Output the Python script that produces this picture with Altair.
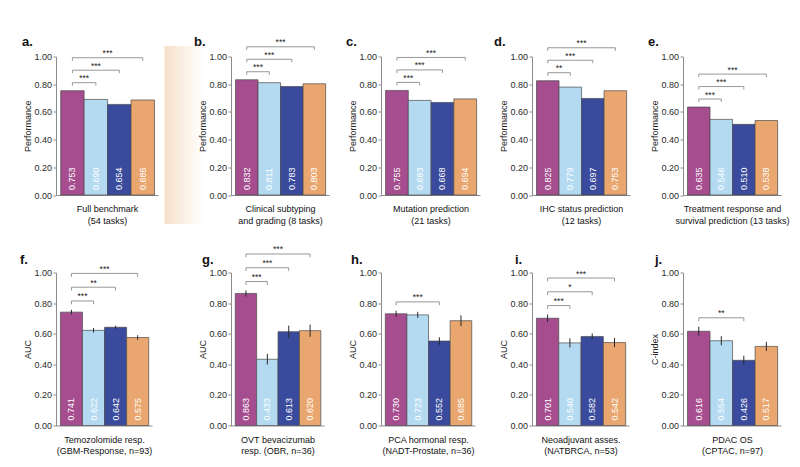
import altair as alt
import pandas as pd

FONT = "Liberation Sans"

# ---------------- data ----------------
models = ["Model 1", "Model 2", "Model 3", "Model 4"]
colors = ["#A64D8F", "#B4DAF1", "#3A4A9C", "#EAA66F"]

vals_a = [0.753, 0.690, 0.654, 0.686]
vals_b = [0.832, 0.811, 0.783, 0.803]
vals_c = [0.755, 0.683, 0.668, 0.694]
vals_d = [0.825, 0.779, 0.697, 0.753]
vals_e = [0.635, 0.546, 0.510, 0.538]
vals_f = [0.741, 0.622, 0.642, 0.575]
vals_g = [0.863, 0.433, 0.613, 0.620]
vals_h = [0.730, 0.723, 0.552, 0.685]
vals_i = [0.701, 0.540, 0.582, 0.542]
vals_j = [0.616, 0.554, 0.426, 0.517]

err_f = [0.015, 0.015, 0.010, 0.015]
err_g = [0.020, 0.035, 0.040, 0.040]
err_h = [0.020, 0.020, 0.025, 0.035]
err_i = [0.025, 0.030, 0.020, 0.030]
err_j = [0.030, 0.030, 0.030, 0.030]

sig_a = [("Model 2", "***"), ("Model 3", "***"), ("Model 4", "***")]
sig_b = [("Model 2", "***"), ("Model 3", "***"), ("Model 4", "***")]
sig_c = [("Model 2", "***"), ("Model 3", "***"), ("Model 4", "***")]
sig_d = [("Model 2", "**"), ("Model 3", "***"), ("Model 4", "***")]
sig_e = [("Model 2", "***"), ("Model 3", "***"), ("Model 4", "***")]
sig_f = [("Model 2", "***"), ("Model 3", "**"), ("Model 4", "***")]
sig_g = [("Model 2", "***"), ("Model 3", "***"), ("Model 4", "***")]
sig_h = [("Model 3", "***")]
sig_i = [("Model 2", "***"), ("Model 3", "*"), ("Model 4", "***")]
sig_j = [("Model 3", "**")]

xtitle_a = ["Full benchmark", "(54 tasks)"]
xtitle_b = ["Clinical subtyping", "and grading (8 tasks)"]
xtitle_c = ["Mutation prediction", "(21 tasks)"]
xtitle_d = ["IHC status prediction", "(12 tasks)"]
xtitle_e = ["Treatment response and", "survival prediction (13 tasks)"]
xtitle_f = ["Temozolomide resp.", "(GBM-Response, n=93)"]
xtitle_g = ["OVT bevacizumab", "resp. (OBR, n=36)"]
xtitle_h = ["PCA hormonal resp.", "(NADT-Prostate, n=36)"]
xtitle_i = ["Neoadjuvant asses.", "(NATBRCA, n=53)"]
xtitle_j = ["PDAC OS", "(CPTAC, n=97)"]

ytick_values = [0.0, 0.2, 0.4, 0.6, 0.8, 1.0]

# ---------------- layout (pixels) ----------------
ROW1_H = 138.5
ROW2_H = 153
COL_SPACING = 40
ROW_SPACING = 77
# (cell width used for layout, width of the drawn x axis, panel-letter dx)
geom = {
    "a": (134.5, 102, -34),
    "b": (104, 98, -37),
    "c": (104, 99, -35),
    "d": (104, 98, -38),
    "e": (98, 98, -35),
    "f": (116.8, 96, -36),
    "g": (110, 93, -29),
    "h": (110.4, 94, -30),
    "i": (110.6, 97, -17),
    "j": (98, 98, -28),
}

AX_GREY = "#8c8c8c"


def make_panel(letter, vals, errs, sig, xtitle, ytitle, height, title_offset):
    cell_w, axis_w, tdx = geom[letter]
    n = len(models)
    errs = errs if errs is not None else [0.0] * n
    df = pd.DataFrame({"model": models, "pos": list(range(n)), "value": vals, "err": errs})
    df["left"] = df["pos"] - 0.5
    df["right"] = df["pos"] + 0.5
    df["lo"] = df["value"] - df["err"]
    df["hi"] = df["value"] + df["err"]
    df["zero"] = 0.0
    df["label"] = [f"{v:.3f}" for v in vals]

    rows = []
    for rank, (target, stars) in enumerate(sig):
        j = models.index(target)
        top = max(df["hi"].iloc[: j + 1])
        level = top + 0.058 + 0.09 * rank
        rows.append({"xa": 0, "xb": j, "xm": j / 2.0, "level": level, "stars": stars})
    br = pd.DataFrame(rows)
    tk = pd.DataFrame(
        [{"x": r["xa"], "level": r["level"]} for r in rows]
        + [{"x": r["xb"], "level": r["level"]} for r in rows]
    )
    tk["low"] = tk["level"] - 0.022

    xs = alt.Scale(domain=[-0.7, 3.65], range=[0, axis_w], nice=False, zero=False)
    ys = alt.Scale(domain=[0, 1], nice=False, zero=True)
    x_axis = alt.Axis(
        title=xtitle, labels=False, ticks=False, grid=False,
        domainColor=AX_GREY, domainWidth=1,
        titleFont=FONT, titleFontSize=9, titleFontWeight="normal", titleColor="#111",
        titlePadding=9.5, titleLineHeight=11.5,
    )
    y_axis = alt.Axis(
        title=ytitle, values=ytick_values, format=".2f", grid=False,
        domainColor=AX_GREY, tickColor=AX_GREY, tickSize=3, domainWidth=1,
        labelFont=FONT, labelFontSize=9, labelColor="#2a2a2a", labelPadding=1.5,
        titleFont=FONT, titleFontSize=9, titleFontWeight="normal", titleColor="#222",
        titlePadding=1,
    )

    def X(f):
        return alt.X(f, scale=xs, axis=x_axis)

    def Y(f):
        return alt.Y(f, scale=ys, axis=y_axis)

    layers = []
    if letter == "a":
        grad = alt.Gradient(
            gradient="linear", x1=0, x2=1, y1=0, y2=0,
            stops=[alt.GradientStop(offset=0, color="#F6E0C8"),
                   alt.GradientStop(offset=1, color="#FFFFFF")],
        )
        layers.append(
            alt.Chart(pd.DataFrame({"k": [0]})).mark_rect(color=grad).encode(
                x=alt.value(axis_w + 6.5), x2=alt.value(axis_w + 45),
                y=alt.value(-10.5), y2=alt.value(height + 29),
            )
        )
    layers.append(
        alt.Chart(df).mark_rect(stroke="#4a4a4a", strokeWidth=0.7).encode(
            x=X("left:Q"), x2="right:Q", y=Y("value:Q"), y2="zero:Q",
            color=alt.Color("model:N", scale=alt.Scale(domain=models, range=colors), legend=None),
        )
    )
    if any(e > 0 for e in errs):
        layers.append(
            alt.Chart(df).mark_rule(color="#2a2a2a", strokeWidth=1).encode(
                x=X("pos:Q"), y=Y("lo:Q"), y2="hi:Q"
            )
        )
    layers.append(
        alt.Chart(df).mark_text(
            angle=270, align="left", baseline="middle", dx=5, color="white",
            fontSize=9, font=FONT,
        ).encode(x=X("pos:Q"), y=Y("zero:Q"), text="label:N")
    )
    layers.append(
        alt.Chart(br).mark_rule(color=AX_GREY, strokeWidth=0.9).encode(
            x=X("xa:Q"), x2="xb:Q", y=Y("level:Q")
        )
    )
    layers.append(
        alt.Chart(tk).mark_rule(color=AX_GREY, strokeWidth=0.9).encode(
            x=X("x:Q"), y=Y("level:Q"), y2="low:Q"
        )
    )
    layers.append(
        alt.Chart(br).mark_text(
            fontSize=8.5, baseline="alphabetic", dy=-1.5, color="#222", font=FONT
        ).encode(x=X("xm:Q"), y=Y("level:Q"), text="stars:N")
    )
    # panel letter
    layers.append(
        alt.Chart(pd.DataFrame({"t": [f"{letter}."]})).mark_text(
            align="left", baseline="alphabetic", fontSize=13, fontWeight="bold",
            font=FONT, color="#111",
        ).encode(x=alt.value(tdx), y=alt.value(-title_offset), text="t:N")
    )

    return alt.layer(*layers).properties(width=cell_w, height=height)


panels = [
    make_panel("a", vals_a, None, sig_a, xtitle_a, "Performance", ROW1_H, 10.5),
    make_panel("b", vals_b, None, sig_b, xtitle_b, "Performance", ROW1_H, 10.5),
    make_panel("c", vals_c, None, sig_c, xtitle_c, "Performance", ROW1_H, 10.5),
    make_panel("d", vals_d, None, sig_d, xtitle_d, "Performance", ROW1_H, 10.5),
    make_panel("e", vals_e, None, sig_e, xtitle_e, "Performance", ROW1_H, 10.5),
    make_panel("f", vals_f, err_f, sig_f, xtitle_f, "AUC", ROW2_H, 9),
    make_panel("g", vals_g, err_g, sig_g, xtitle_g, "AUC", ROW2_H, 9),
    make_panel("h", vals_h, err_h, sig_h, xtitle_h, "AUC", ROW2_H, 9),
    make_panel("i", vals_i, err_i, sig_i, xtitle_i, "AUC", ROW2_H, 9),
    make_panel("j", vals_j, err_j, sig_j, xtitle_j, "C-index", ROW2_H, 9),
]

chart = alt.concat(
    *panels, columns=5, bounds="flush", align="none",
    spacing={"row": ROW_SPACING, "column": COL_SPACING},
).configure_view(stroke=None).properties(
    padding={"left": 20, "top": 35.5, "right": 5, "bottom": 5},
    background="white",
)

chart.save("out.html", embed_options={"renderer": "svg", "actions": False})
